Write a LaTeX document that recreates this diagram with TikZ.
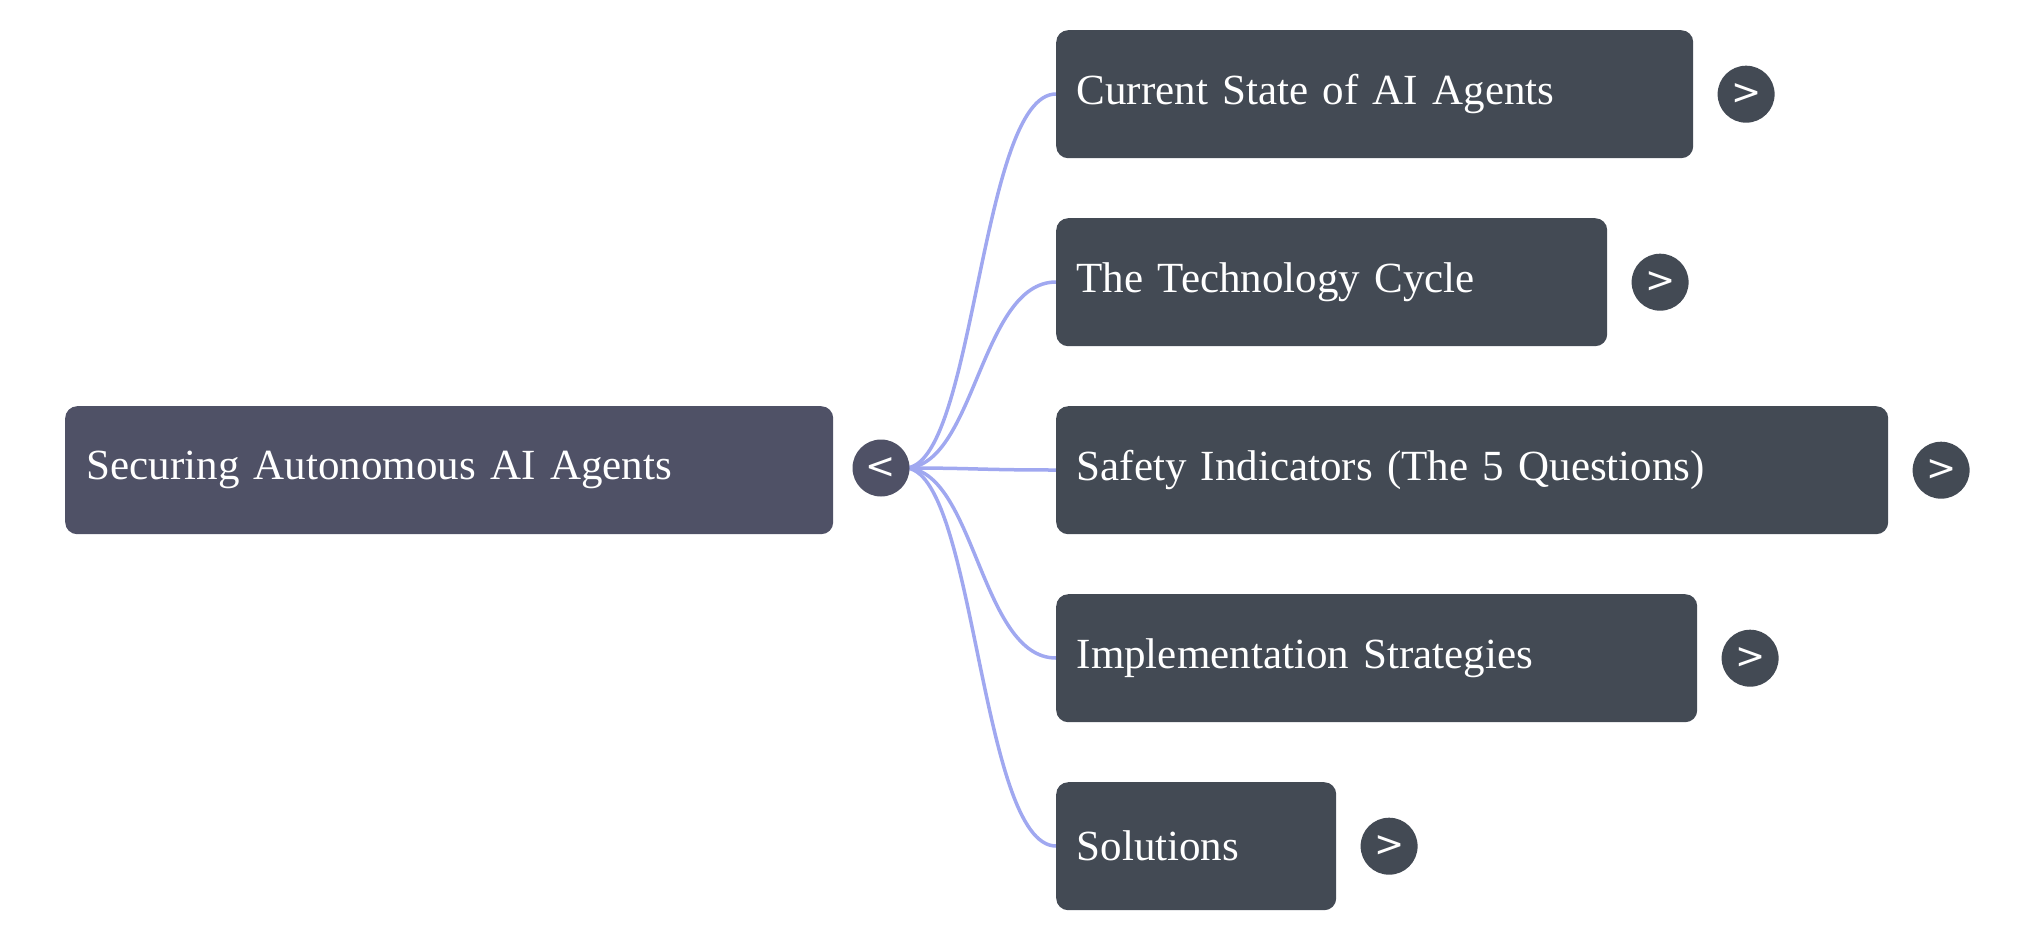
\documentclass[tikz,border=0pt]{standalone}
\usepackage{fontspec}
\setmainfont{Liberation Serif}
\setsansfont{DejaVu Sans}
\usetikzlibrary{positioning}
\begin{document}
\begin{tikzpicture}[
    x=1pt, y=-1pt,
    rootbox/.style={rectangle, fill=root, rounded corners=12pt, inner sep=0pt, text=white, font=\fontsize{43}{50}\selectfont, anchor=north west},
    topicbox/.style={rectangle, fill=topic, rounded corners=12pt, inner sep=0pt, text=white, font=\fontsize{43}{50}\selectfont, anchor=north west},
    toggle/.style={circle, fill=#1, minimum size=57pt, inner sep=0pt, text=white, font=\sffamily\fontsize{36}{40}\selectfont},
    branch/.style={draw=link, line width=3.5pt}
]
    \definecolor{root}{HTML}{4F5166}
    \definecolor{topic}{HTML}{434A54}
    \definecolor{link}{HTML}{A0A8F0}
    \useasboundingbox (0,0) rectangle (2023,937);
    % Branches
    \foreach \i/\y in {1/94,2/282,3/470,4/658,5/846} {
        \draw[branch] (905,468) .. controls (975,468) and (980,\y) .. (1056,\y);
    }
    % Root
    \node[rootbox, minimum width=768pt, minimum height=128pt, text width=725pt, align=left] (root) at (65,406) {Securing Autonomous AI Agents};
    \node[toggle=root] (rt) at (881,468) {<};
    % Topics
    \node[topicbox, minimum width=637pt, minimum height=128pt, text width=596pt, align=left] (t1) at (1056,30) {Current State of AI Agents};
    \node[topicbox, minimum width=551pt, minimum height=128pt, text width=510pt, align=left] (t2) at (1056,218) {The Technology Cycle};
    \node[topicbox, minimum width=832pt, minimum height=128pt, text width=791pt, align=left] (t3) at (1056,406) {Safety Indicators (The 5 Questions)};
    \node[topicbox, minimum width=641pt, minimum height=128pt, text width=600pt, align=left] (t4) at (1056,594) {Implementation Strategies};
    \node[topicbox, minimum width=280pt, minimum height=128pt, text width=239pt, align=left] (t5) at (1056,782) {Solutions};
    % Toggles
    \foreach \i in {1,...,5} {
        \node[toggle=topic, right=24pt of t\i] (tg\i) {>};
    }
\end{tikzpicture}
\end{document}
